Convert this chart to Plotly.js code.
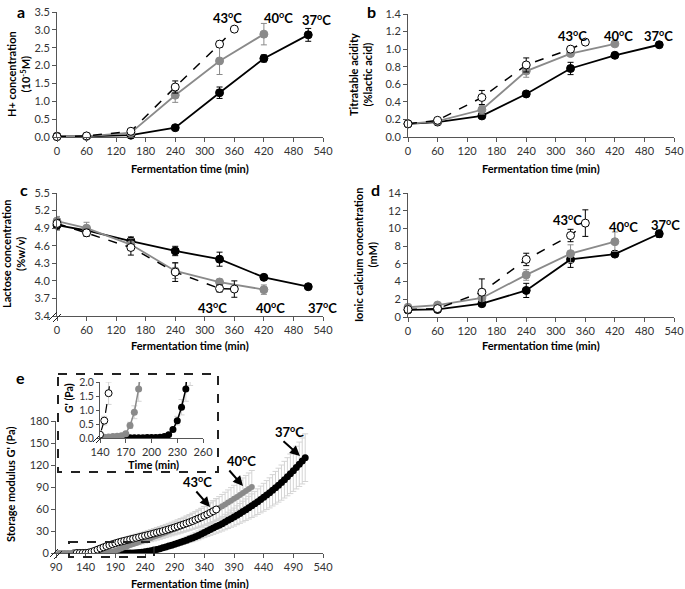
<!DOCTYPE html>
<html><head><meta charset="utf-8">
<script src="https://cdn.plot.ly/plotly-3.0.1.min.js"></script>
<style>html,body{margin:0;padding:0;background:#fff;}#chart{width:685px;height:589px;}</style>
</head><body><div id="chart"></div>
<script>
// ---------- data ----------
const time37 = [0, 60, 150, 240, 330, 420, 510];
const time40 = [0, 60, 150, 240, 330, 420];
const time43 = [0, 60, 150, 240, 330, 360];

// a: H+ concentration (10^-5 M)
const hplus37 = [0.02, 0.02, 0.05, 0.26, 1.24, 2.20, 2.86];
const hplus37Err = [0, 0, 0.02, 0.03, 0.16, 0.10, 0.18];
const hplus40 = [0.01, 0.02, 0.12, 1.17, 2.13, 2.88];
const hplus40Err = [0, 0, 0.02, 0.20, 0.38, 0.30];
const hplus43 = [0.01, 0.03, 0.16, 1.40, 2.60, 3.02];
const hplus43Err = [0, 0, 0.03, 0.17, 0.08, 0.05];

// b: titratable acidity (% lactic acid)
const acid37 = [0.15, 0.17, 0.24, 0.49, 0.78, 0.93, 1.05];
const acid37Err = [0.01, 0.01, 0.02, 0.02, 0.07, 0.02, 0.02];
const acid40 = [0.15, 0.18, 0.31, 0.75, 0.95, 1.06];
const acid40Err = [0.01, 0.01, 0.05, 0.07, 0.02, 0.02];
const acid43 = [0.15, 0.19, 0.45, 0.82, 1.00, 1.08];
const acid43Err = [0.01, 0.01, 0.08, 0.08, 0.03, 0.02];

// c: lactose concentration (% w/v)
const lact37 = [4.95, 4.86, 4.68, 4.51, 4.37, 4.06, 3.90];
const lact37Err = [0.08, 0.05, 0.07, 0.08, 0.12, 0.02, 0.03];
const lact40 = [5.02, 4.90, 4.62, 4.17, 3.98, 3.85];
const lact40Err = [0.08, 0.10, 0.10, 0.13, 0.05, 0.08];
const lact43 = [4.98, 4.82, 4.57, 4.15, 3.87, 3.86];
const lact43Err = [0.07, 0.06, 0.13, 0.16, 0.06, 0.14];

// d: ionic calcium (mM)
const calc37 = [0.80, 0.85, 1.50, 3.00, 6.50, 7.10, 9.40];
const calc37Err = [0.1, 0.1, 0.3, 0.8, 0.9, 0.2, 0.4];
const calc40 = [1.10, 1.35, 2.15, 4.75, 7.15, 8.50];
const calc40Err = [0.1, 0.1, 0.3, 0.6, 1.0, 1.1];
const calc43 = [0.85, 0.95, 2.80, 6.50, 9.20, 10.60];
const calc43Err = [0.1, 0.1, 1.5, 0.7, 0.7, 1.5];

// e: storage modulus G' (Pa)
const gTime37 = [120,125,130,135,140,145,150,155,160,165,170,175,180,185,190,195,200,205,210,215,220,225,230,235,240,245,250,255,260,265,270,275,280,285,290,295,300,305,310,315,320,325,330,335,340,345,350,355,360,365,370,375,380,385,390,395,400,405,410,415,420,425,430,435,440,445,450,455,460,465,470,475,480,485,490,495,500,505,510];
const g37 = [0,0,0,0,0,0,0,0,0,0,0.01,0.01,0.01,0.01,0.01,0.02,0.02,0.02,0.03,0.05,0.12,0.3,0.62,1.1,1.75,2.5,3.2,4,4.8,5.9,7,8.2,9.5,10.7,12,13.2,14.5,16,17.5,19,20.5,22.2,24,26,28,30,32,34,36,38,40,42.2,44.5,46.8,49,51.5,54,56.5,59,61.8,64.5,67.2,70,73,76,79,82,85.5,89,92.5,96,100,104,108,112,116.5,121,125.5,130];
const gTime40 = [95,100,105,110,115,120,125,130,135,140,145,150,155,160,165,170,175,180,185,190,195,200,205,210,215,220,225,230,235,240,245,250,255,260,265,270,275,280,285,290,295,300,305,310,315,320,325,330,335,340,345,350,355,360,365,370,375,380,385,390,395,400,405,410,415,420];
const g40 = [0,0,0,0,0,0,0,0,0.01,0.02,0.03,0.04,0.05,0.06,0.08,0.15,0.45,0.92,1.75,3,4.5,6.2,7.8,9.3,10.8,12.2,13.6,15,16.4,17.8,19.2,20.6,22,23.5,25,26.5,28,29.6,31.2,32.8,34.4,36,37.7,39.4,41.2,43,44.8,46.7,48.6,50.6,52.6,54.7,56.9,59.2,61.5,63.9,66.3,68.8,71.3,73.9,76.5,79.2,81.9,84.6,87.3,90];
const gTime43 = [125,130,135,140,145,150,155,160,165,170,175,180,185,190,195,200,205,210,215,220,225,230,235,240,245,250,255,260,265,270,275,280,285,290,295,300,305,310,315,320,325,330,335,340,345,350,355,360];
const g43 = [0,0,0.04,0.12,0.62,1.6,3,4.6,6.2,7.8,9.3,10.7,12,13.3,14.5,15.6,16.6,17.6,18.6,19.6,20.6,21.6,22.6,23.6,24.6,25.6,26.7,27.8,28.9,30,31.2,32.4,33.6,34.9,36.2,37.6,39,40.5,42,43.6,45.3,47,48.8,50.7,52.7,54.8,57,59.3];

const tempLabels = ['37<sup>o</sup>C', '40<sup>o</sup>C', '43<sup>o</sup>C'];
const xTitle = 'Fermentation time (min)';

// ---------- layout helpers ----------
const W = 685, H = 589;
const FONT = 'Lato, "Open Sans", sans-serif';
const fx = v => v / W, fy = v => 1 - v / H;
const hdom = (a, b) => [a / W, b / W];
const vdom = (top, bottom) => [1 - bottom / H, 1 - top / H];
const GREY = '#8a8a8a';

const styles = {
  37: {line: {color: '#000', width: 1.8}, marker: {color: '#000', size: 8, line: {color: '#000', width: 1}}, err: '#000'},
  40: {line: {color: GREY, width: 1.8}, marker: {color: GREY, size: 8, line: {color: GREY, width: 1}}, err: GREY},
  43: {line: {color: '#000', width: 1.5, dash: 'dash'}, marker: {color: '#fff', size: 8, line: {color: '#000', width: 1}}, err: '#000'}
};

function series(x, y, e, k, n) {
  const s = styles[k];
  return {x: x, y: y, type: 'scatter', mode: 'lines+markers', xaxis: 'x' + n, yaxis: 'y' + n,
    line: s.line, marker: s.marker, cliponaxis: false, showlegend: false, hoverinfo: 'skip',
    error_y: {type: 'data', array: e, visible: true, color: s.err, thickness: 1, width: 3}};
}

const traces = [];
// a
traces.push(series(time37, hplus37, hplus37Err, 37, ''));
traces.push(series(time40, hplus40, hplus40Err, 40, ''));
traces.push(series(time43, hplus43, hplus43Err, 43, ''));
// b
traces.push(series(time37, acid37, acid37Err, 37, '2'));
traces.push(series(time40, acid40, acid40Err, 40, '2'));
traces.push(series(time43, acid43, acid43Err, 43, '2'));
// c
traces.push(series(time37, lact37, lact37Err, 37, '3'));
traces.push(series(time40, lact40, lact40Err, 40, '3'));
traces.push(series(time43, lact43, lact43Err, 43, '3'));
// d
traces.push(series(time37, calc37, calc37Err, 37, '4'));
traces.push(series(time40, calc40, calc40Err, 40, '4'));
traces.push(series(time43, calc43, calc43Err, 43, '4'));

// e: error bars underneath
const eSets = [[gTime37, g37], [gTime40, g40], [gTime43, g43]];
for (const n of ['5', '6']) {
  for (const [x, y] of eSets) {
    traces.push({x: x, y: y, type: 'scatter', mode: 'markers', xaxis: 'x' + n, yaxis: 'y' + n,
      marker: {size: 1, opacity: 0}, showlegend: false, hoverinfo: 'skip',
      error_y: {type: 'percent', value: 25, visible: true, color: '#d4d4d4', thickness: 1, width: 3}});
  }
}
// e main
traces.push({x: gTime37, y: g37, type: 'scatter', mode: 'lines+markers', xaxis: 'x5', yaxis: 'y5',
  line: {color: '#000', width: 3}, marker: {color: '#000', size: 7}, showlegend: false, hoverinfo: 'skip'});
traces.push({x: gTime40, y: g40, type: 'scatter', mode: 'lines+markers', xaxis: 'x5', yaxis: 'y5',
  line: {color: GREY, width: 3}, marker: {color: GREY, size: 6}, showlegend: false, hoverinfo: 'skip'});
traces.push({x: gTime43, y: g43, type: 'scatter', mode: 'lines+markers', xaxis: 'x5', yaxis: 'y5',
  line: {color: '#000', width: 1, dash: 'dash'}, marker: {color: '#fff', size: 7, line: {color: '#000', width: 1}}, showlegend: false, hoverinfo: 'skip'});
// e inset
traces.push({x: gTime37, y: g37, type: 'scatter', mode: 'lines+markers', xaxis: 'x6', yaxis: 'y6',
  line: {color: '#000', width: 1.5}, marker: {color: '#000', size: 7}, showlegend: false, hoverinfo: 'skip'});
traces.push({x: gTime40, y: g40, type: 'scatter', mode: 'lines+markers', xaxis: 'x6', yaxis: 'y6',
  line: {color: GREY, width: 1.5}, marker: {color: GREY, size: 7}, showlegend: false, hoverinfo: 'skip'});
traces.push({x: gTime43, y: g43, type: 'scatter', mode: 'lines+markers', xaxis: 'x6', yaxis: 'y6',
  line: {color: '#000', width: 1.2, dash: 'dash'}, marker: {color: '#fff', size: 7, line: {color: '#000', width: 1}}, showlegend: false, hoverinfo: 'skip'});

function axis(extra) {
  return Object.assign({showline: true, linecolor: '#555', linewidth: 1, ticks: 'outside', ticklen: 4,
    tickcolor: '#555', showgrid: false, zeroline: false, fixedrange: true,
    tickfont: {family: FONT, size: 11, color: '#333'}}, extra);
}

const L = [57, 323], R = [408, 674];
const layout = {
  width: W, height: H, margin: {l: 0, r: 0, t: 0, b: 0},
  paper_bgcolor: '#fff', plot_bgcolor: 'rgba(0,0,0,0)', showlegend: false,
  font: {family: FONT, color: '#000'},
  xaxis: axis({domain: hdom(...L), range: [0, 540], tick0: 0, dtick: 60, anchor: 'y'}),
  yaxis: axis({domain: vdom(12, 137), range: [0, 3.5], dtick: 0.5, tickformat: '.1f', anchor: 'x'}),
  xaxis2: axis({domain: hdom(...R), range: [0, 540], tick0: 0, dtick: 60, anchor: 'y2'}),
  yaxis2: axis({domain: vdom(14, 137), range: [0, 1.4], dtick: 0.2, tickformat: '.1f', anchor: 'x2'}),
  xaxis3: axis({domain: hdom(...L), range: [0, 540], tick0: 0, dtick: 60, anchor: 'y3'}),
  yaxis3: axis({domain: vdom(193, 316), range: [3.4, 5.5], tick0: 3.4, dtick: 0.3, tickformat: '.1f', anchor: 'x3'}),
  xaxis4: axis({domain: hdom(...R), range: [0, 540], tick0: 0, dtick: 60, anchor: 'y4'}),
  yaxis4: axis({domain: vdom(193, 317), range: [0, 14], dtick: 2, anchor: 'x4'}),
  xaxis5: axis({domain: hdom(56, 323), range: [90, 540], tick0: 90, dtick: 50, anchor: 'y5'}),
  yaxis5: axis({domain: vdom(421, 553), range: [0, 180], dtick: 30, anchor: 'x5'}),
  xaxis6: axis({domain: hdom(100, 203), range: [140, 260], tick0: 140, dtick: 30, anchor: 'y6'}),
  yaxis6: axis({domain: vdom(382, 438), range: [0, 2], dtick: 0.5, tickformat: '.1f', anchor: 'x6', ticklen: 3,
    tickfont: {family: FONT, size: 10.5, color: '#333'}}),
  annotations: [], shapes: []
};

function txt(t, x, y, size, opts) {
  layout.annotations.push(Object.assign({text: t, x: fx(x), y: fy(y), xref: 'paper', yref: 'paper',
    showarrow: false, xanchor: 'center', yanchor: 'middle',
    font: {family: FONT, size: size, color: '#000'}}, opts || {}));
}
function arrow(x0, y0, x1, y1) {
  layout.annotations.push({text: '', x: fx(x1), y: fy(y1), xref: 'paper', yref: 'paper',
    ax: x0 - x1, ay: y0 - y1, showarrow: true, arrowhead: 2, arrowsize: 1, arrowwidth: 2, arrowcolor: '#000'});
}
function line(x0, y0, x1, y1, w, dash) {
  layout.shapes.push({type: 'line', xref: 'paper', yref: 'paper', x0: fx(x0), y0: fy(y0), x1: fx(x1), y1: fy(y1),
    line: {color: '#222', width: w || 1, dash: dash || 'solid'}});
}
function rect(x0, y0, x1, y1) {
  layout.shapes.push({type: 'rect', xref: 'paper', yref: 'paper', x0: fx(x0), y0: fy(y0), x1: fx(x1), y1: fy(y1),
    line: {color: '#222', width: 2, dash: 'dash'}});
}

// panel letters
txt('<b>a</b>', 21, 0, 16, {yanchor: 'top'}); txt('<b>b</b>', 371, 0, 16, {yanchor: 'top'});
txt('<b>c</b>', 24, 190, 16); txt('<b>d</b>', 375, 190, 16); txt('<b>e</b>', 20, 377, 16);

// x titles
txt('<b>' + xTitle + '</b>', 190, 168, 11); txt('<b>' + xTitle + '</b>', 541, 168, 11);
txt('<b>' + xTitle + '</b>', 190, 345, 11); txt('<b>' + xTitle + '</b>', 541, 345, 11);
txt('<b>' + xTitle + '</b>', 190, 583, 11);
txt('<b>Time (min)</b>', 153, 464, 11);

// y titles
txt('<b>H+ concentration<br>(10<sup>-5</sup>M)</b>', 19, 74, 11, {textangle: -90});
txt('<b>Titratable acidity<br>(%lactic acid)</b>', 361, 74, 11, {textangle: -90});
txt('<b>Lactose concentration<br>(%w/v)</b>', 13, 254, 11, {textangle: -90});
txt('<b>Ionic calcium concentration<br>(mM)</b>', 365, 255, 11, {textangle: -90});
txt('<b>Storage modulus G\' (Pa)</b>', 10, 484, 11, {textangle: -90});
txt('<b>G\' (Pa)</b>', 69, 398, 10.5, {textangle: -90});

// temperature labels
const [t37, t40, t43] = tempLabels;
txt('<b>' + t43 + '</b>', 227, 18, 13); txt('<b>' + t40 + '</b>', 278, 18, 13); txt('<b>' + t37 + '</b>', 316, 20, 13);
txt('<b>' + t43 + '</b>', 572, 35, 13); txt('<b>' + t40 + '</b>', 618, 35, 13); txt('<b>' + t37 + '</b>', 658, 35, 13);
txt('<b>' + t43 + '</b>', 212, 307, 13); txt('<b>' + t40 + '</b>', 270, 307, 13); txt('<b>' + t37 + '</b>', 322, 307, 13);
txt('<b>' + t43 + '</b>', 567, 219, 13); txt('<b>' + t40 + '</b>', 623, 227, 13); txt('<b>' + t37 + '</b>', 665, 225, 13);
txt('<b>' + t37 + '</b>', 289, 431, 13); txt('<b>' + t40 + '</b>', 241, 461, 13); txt('<b>' + t43 + '</b>', 197, 482, 13);

// arrows in e
arrow(282, 440, 300, 456);
arrow(228, 469, 243, 486);
arrow(195, 490, 210, 507);

// axis break marks
line(49, 320, 57, 312); line(53, 322, 61, 314);
line(50, 557, 58, 549); line(54, 559, 62, 551);
line(93, 442, 99, 436); line(96, 443, 102, 437);

// dashed boxes
rect(58, 374, 218, 472);
rect(69, 542, 154, 557);

Plotly.newPlot('chart', traces, layout, {staticPlot: true, displayModeBar: false});
</script></body></html>
